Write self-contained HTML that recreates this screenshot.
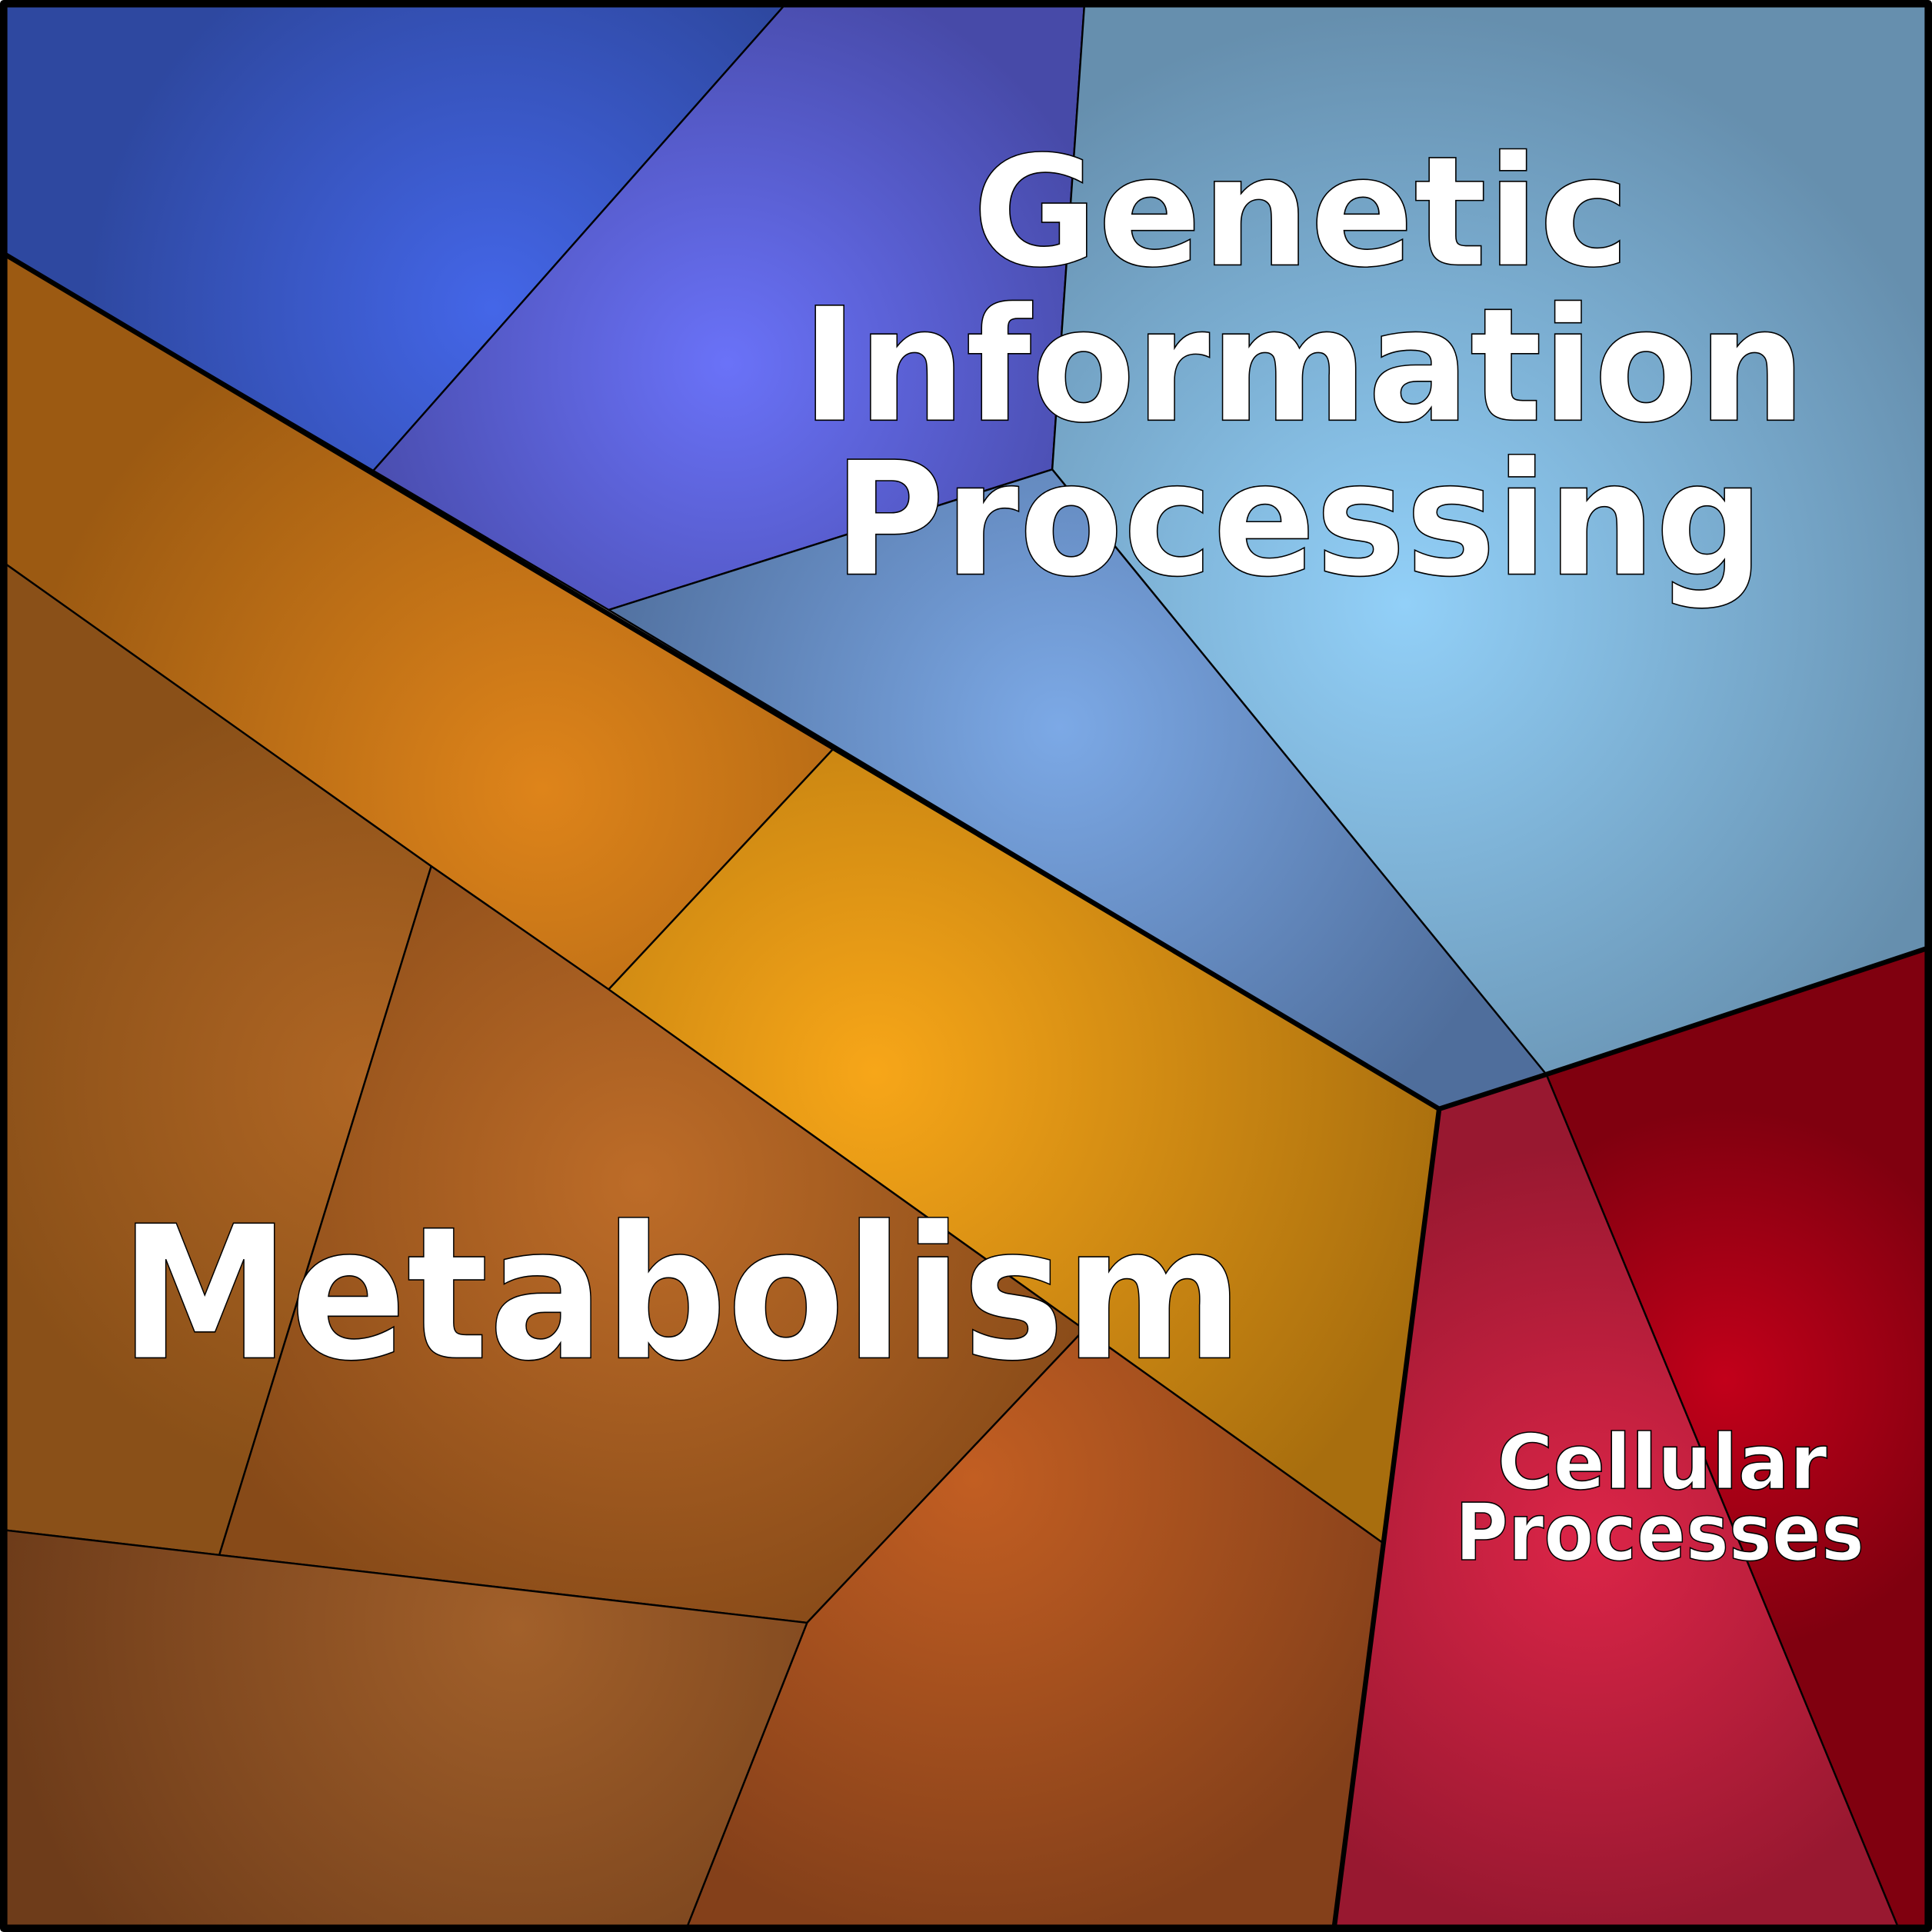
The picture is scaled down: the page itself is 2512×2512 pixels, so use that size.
<!DOCTYPE html>
<html><head><meta charset="utf-8"><style>html,body{margin:0;padding:0;background:#fff}svg{display:block}</style></head>
<body>
<svg width="2512" height="2512" viewBox="0 0 1568 1568" xmlns="http://www.w3.org/2000/svg">
<defs>
<radialGradient id="g1" gradientUnits="userSpaceOnUse" cx="400" cy="250" r="330"><stop offset="0" stop-color="#4466e8"/><stop offset="1" stop-color="#2e48a0"/></radialGradient>
<radialGradient id="g2" gradientUnits="userSpaceOnUse" cx="590" cy="295" r="330"><stop offset="0" stop-color="#6a72f8"/><stop offset="1" stop-color="#474aa8"/></radialGradient>
<radialGradient id="g3" gradientUnits="userSpaceOnUse" cx="1140" cy="490" r="480"><stop offset="0" stop-color="#92d0f8"/><stop offset="1" stop-color="#668fae"/></radialGradient>
<radialGradient id="g4" gradientUnits="userSpaceOnUse" cx="860" cy="590" r="400"><stop offset="0" stop-color="#7ca9e6"/><stop offset="1" stop-color="#4f6e9c"/></radialGradient>
<radialGradient id="g5" gradientUnits="userSpaceOnUse" cx="1400" cy="1120" r="220"><stop offset="0" stop-color="#c2001a"/><stop offset="1" stop-color="#80000f"/></radialGradient>
<radialGradient id="g6" gradientUnits="userSpaceOnUse" cx="1290" cy="1250" r="320"><stop offset="0" stop-color="#dc2548"/><stop offset="1" stop-color="#981830"/></radialGradient>
<radialGradient id="g7" gradientUnits="userSpaceOnUse" cx="440" cy="640" r="430"><stop offset="0" stop-color="#de841a"/><stop offset="1" stop-color="#9c5a12"/></radialGradient>
<radialGradient id="g8" gradientUnits="userSpaceOnUse" cx="710" cy="870" r="480"><stop offset="0" stop-color="#f7a618"/><stop offset="1" stop-color="#a86e0e"/></radialGradient>
<radialGradient id="g9" gradientUnits="userSpaceOnUse" cx="300" cy="880" r="330"><stop offset="0" stop-color="#b06624"/><stop offset="1" stop-color="#8a5018"/></radialGradient>
<radialGradient id="g10" gradientUnits="userSpaceOnUse" cx="520" cy="960" r="400"><stop offset="0" stop-color="#bd6c28"/><stop offset="1" stop-color="#874a18"/></radialGradient>
<radialGradient id="g11" gradientUnits="userSpaceOnUse" cx="790" cy="1200" r="380"><stop offset="0" stop-color="#c25e22"/><stop offset="1" stop-color="#84401a"/></radialGradient>
<radialGradient id="g12" gradientUnits="userSpaceOnUse" cx="420" cy="1320" r="420"><stop offset="0" stop-color="#a2602a"/><stop offset="1" stop-color="#6e3c1a"/></radialGradient>
</defs>
<g stroke="#000" stroke-width="1.5" stroke-linejoin="round">
<polygon fill="url(#g1)" points="5,5 636,5 303,382 5,207"/>
<polygon fill="url(#g2)" points="636,5 880,5 854,381 494,495 303,382"/>
<polygon fill="url(#g3)" points="880,5 1563,5 1563,770 1255,872 854,381"/>
<polygon fill="url(#g4)" points="854,381 1255,872 1168,900 494,495"/>
<polygon fill="url(#g5)" points="1255,872 1563,770 1563,1563 1540,1563"/>
<polygon fill="url(#g6)" points="1168,900 1255,872 1540,1563 1083,1563"/>
<polygon fill="url(#g7)" points="5,207 677,607 494,803 350,703 5,458"/>
<polygon fill="url(#g8)" points="677,607 1168,900 1122,1252 880,1079 494,803"/>
<polygon fill="url(#g9)" points="5,458 350,703 178,1262 5,1242"/>
<polygon fill="url(#g10)" points="350,703 494,803 880,1079 655,1317 178,1262"/>
<polygon fill="url(#g11)" points="880,1079 1122,1252 1083,1563 558,1563 655,1317"/>
<polygon fill="url(#g12)" points="5,1242 178,1262 655,1317 558,1563 5,1563"/>
</g>
<g stroke="#000" stroke-width="4" fill="none" stroke-linejoin="round">
<polyline points="5,207 1168,900 1083,1563"/>
<polyline points="1168,900 1255,872 1563,770"/>
<rect x="3" y="3" width="1562" height="1562" stroke-width="6"/>
</g>
<g font-family="'DejaVu Sans','Liberation Sans',sans-serif" font-weight="bold" fill="#fff" stroke="#000" stroke-width="1" text-anchor="middle">
<text x="1056" y="215" font-size="124">Genetic</text>
<text x="1058" y="341" font-size="128" textLength="815" lengthAdjust="spacingAndGlyphs">Information</text>
<text x="1054" y="466" font-size="128" textLength="755" lengthAdjust="spacingAndGlyphs">Processing</text>
<text x="553" y="1102" font-size="150" textLength="912" lengthAdjust="spacingAndGlyphs">Metabolism</text>
<text x="1349" y="1208" font-size="62">Cellular</text>
<text x="1347" y="1266" font-size="64" textLength="332" lengthAdjust="spacingAndGlyphs">Processes</text>
</g>
</svg>
</body></html>
